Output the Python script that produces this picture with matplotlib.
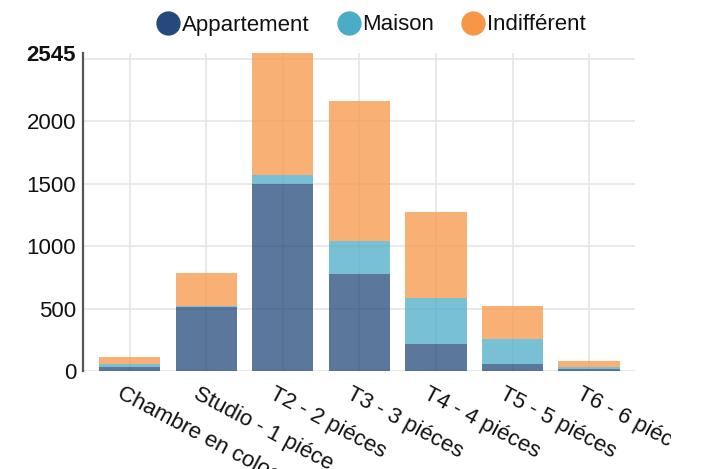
import matplotlib
matplotlib.use("Agg")
import matplotlib.pyplot as plt
from matplotlib.lines import Line2D
from matplotlib.transforms import ScaledTranslation, Bbox, TransformedBbox
import numpy as np

categories = ["Chambre en colocation", "Studio - 1 piéce", "T2 - 2 piéces",
              "T3 - 3 piéces", "T4 - 4 piéces", "T5 - 5 piéces", "T6 - 6 piéces"]
appartement = [35, 515, 1495, 780, 215, 60, 18]
maison = [20, 8, 70, 260, 370, 200, 14]
indifferent = [55, 260, 980, 1120, 690, 260, 48]
series_names = ["Appartement", "Maison", "Indifférent"]
colors = ["#24497a", "#4bacc6", "#f79646"]
ymax = 2545
grid_ticks = [0, 500, 1000, 1500, 2000, 2500]
tick_labels = ["0", "500", "1000", "1500", "2000", ""]

plt.rcParams['font.family'] = ['Liberation Sans', 'DejaVu Sans']
FS = 16
TXT = "#111111"

W, H = 705, 469
fig = plt.figure(figsize=(W / 100, H / 100), dpi=100)
ax = fig.add_axes([83 / W, 1 - 371 / H, (635 - 83) / W, (371 - 52.9) / H])

x = np.arange(len(categories))
bottom = np.zeros(len(categories))
for vals, c in zip([appartement, maison, indifferent], colors):
    ax.bar(x, vals, width=0.8, bottom=bottom, color=c, alpha=0.75, zorder=2, linewidth=0)
    bottom += np.array(vals)

ax.set_xlim(-0.61, 6.6)
ax.set_ylim(0, ymax)
ax.set_yticks(grid_ticks + [ymax])
ax.set_yticklabels(tick_labels + [str(ymax)])
ax.set_xticks(x)
ax.set_xticklabels([])
ax.grid(True, color="#e5e5e5", linewidth=1.2, zorder=0)
ax.set_axisbelow(True)
ax.get_ygridlines()[-1].set_visible(False)
ax.tick_params(axis='both', length=0, labelsize=FS, labelcolor=TXT)
ax.tick_params(axis='y', pad=5)
for lbl in ax.get_yticklabels():
    if lbl.get_text() == str(ymax):
        lbl.set_fontweight('bold')

for s in ["top", "right", "bottom"]:
    ax.spines[s].set_visible(False)
ax.spines["left"].set_color("#555555")
ax.spines["left"].set_linewidth(1.6)

# rotated x labels (rotated about the tick point)
ang = 28
dist = 30
dx = -dist * np.sin(np.radians(ang))
dy = -dist * np.cos(np.radians(ang))
clipbox = TransformedBbox(Bbox([[0, 0], [671 / W, 1]]), fig.transFigure)
for i, cat in enumerate(categories):
    tr = ax.get_xaxis_transform() + ScaledTranslation(dx / 100, dy / 100, fig.dpi_scale_trans)
    t = ax.text(i, 0, cat, transform=tr, rotation=-ang, rotation_mode='anchor',
                ha='left', va='baseline', fontsize=FS, color=TXT, clip_on=True)
    t.set_clip_box(clipbox)

handles = [Line2D([], [], marker='o', linestyle='none', markersize=16.5,
                  markerfacecolor=c, markeredgecolor=c) for c in colors]
fig.legend(handles, series_names, loc='center', bbox_to_anchor=(371.5 / W, 1 - 25 / H),
           ncol=3, frameon=False, fontsize=FS, handlelength=1.0, handletextpad=0.12,
           columnspacing=1.25, borderpad=0, labelcolor=TXT)

fig.savefig("out.png", dpi=100)
